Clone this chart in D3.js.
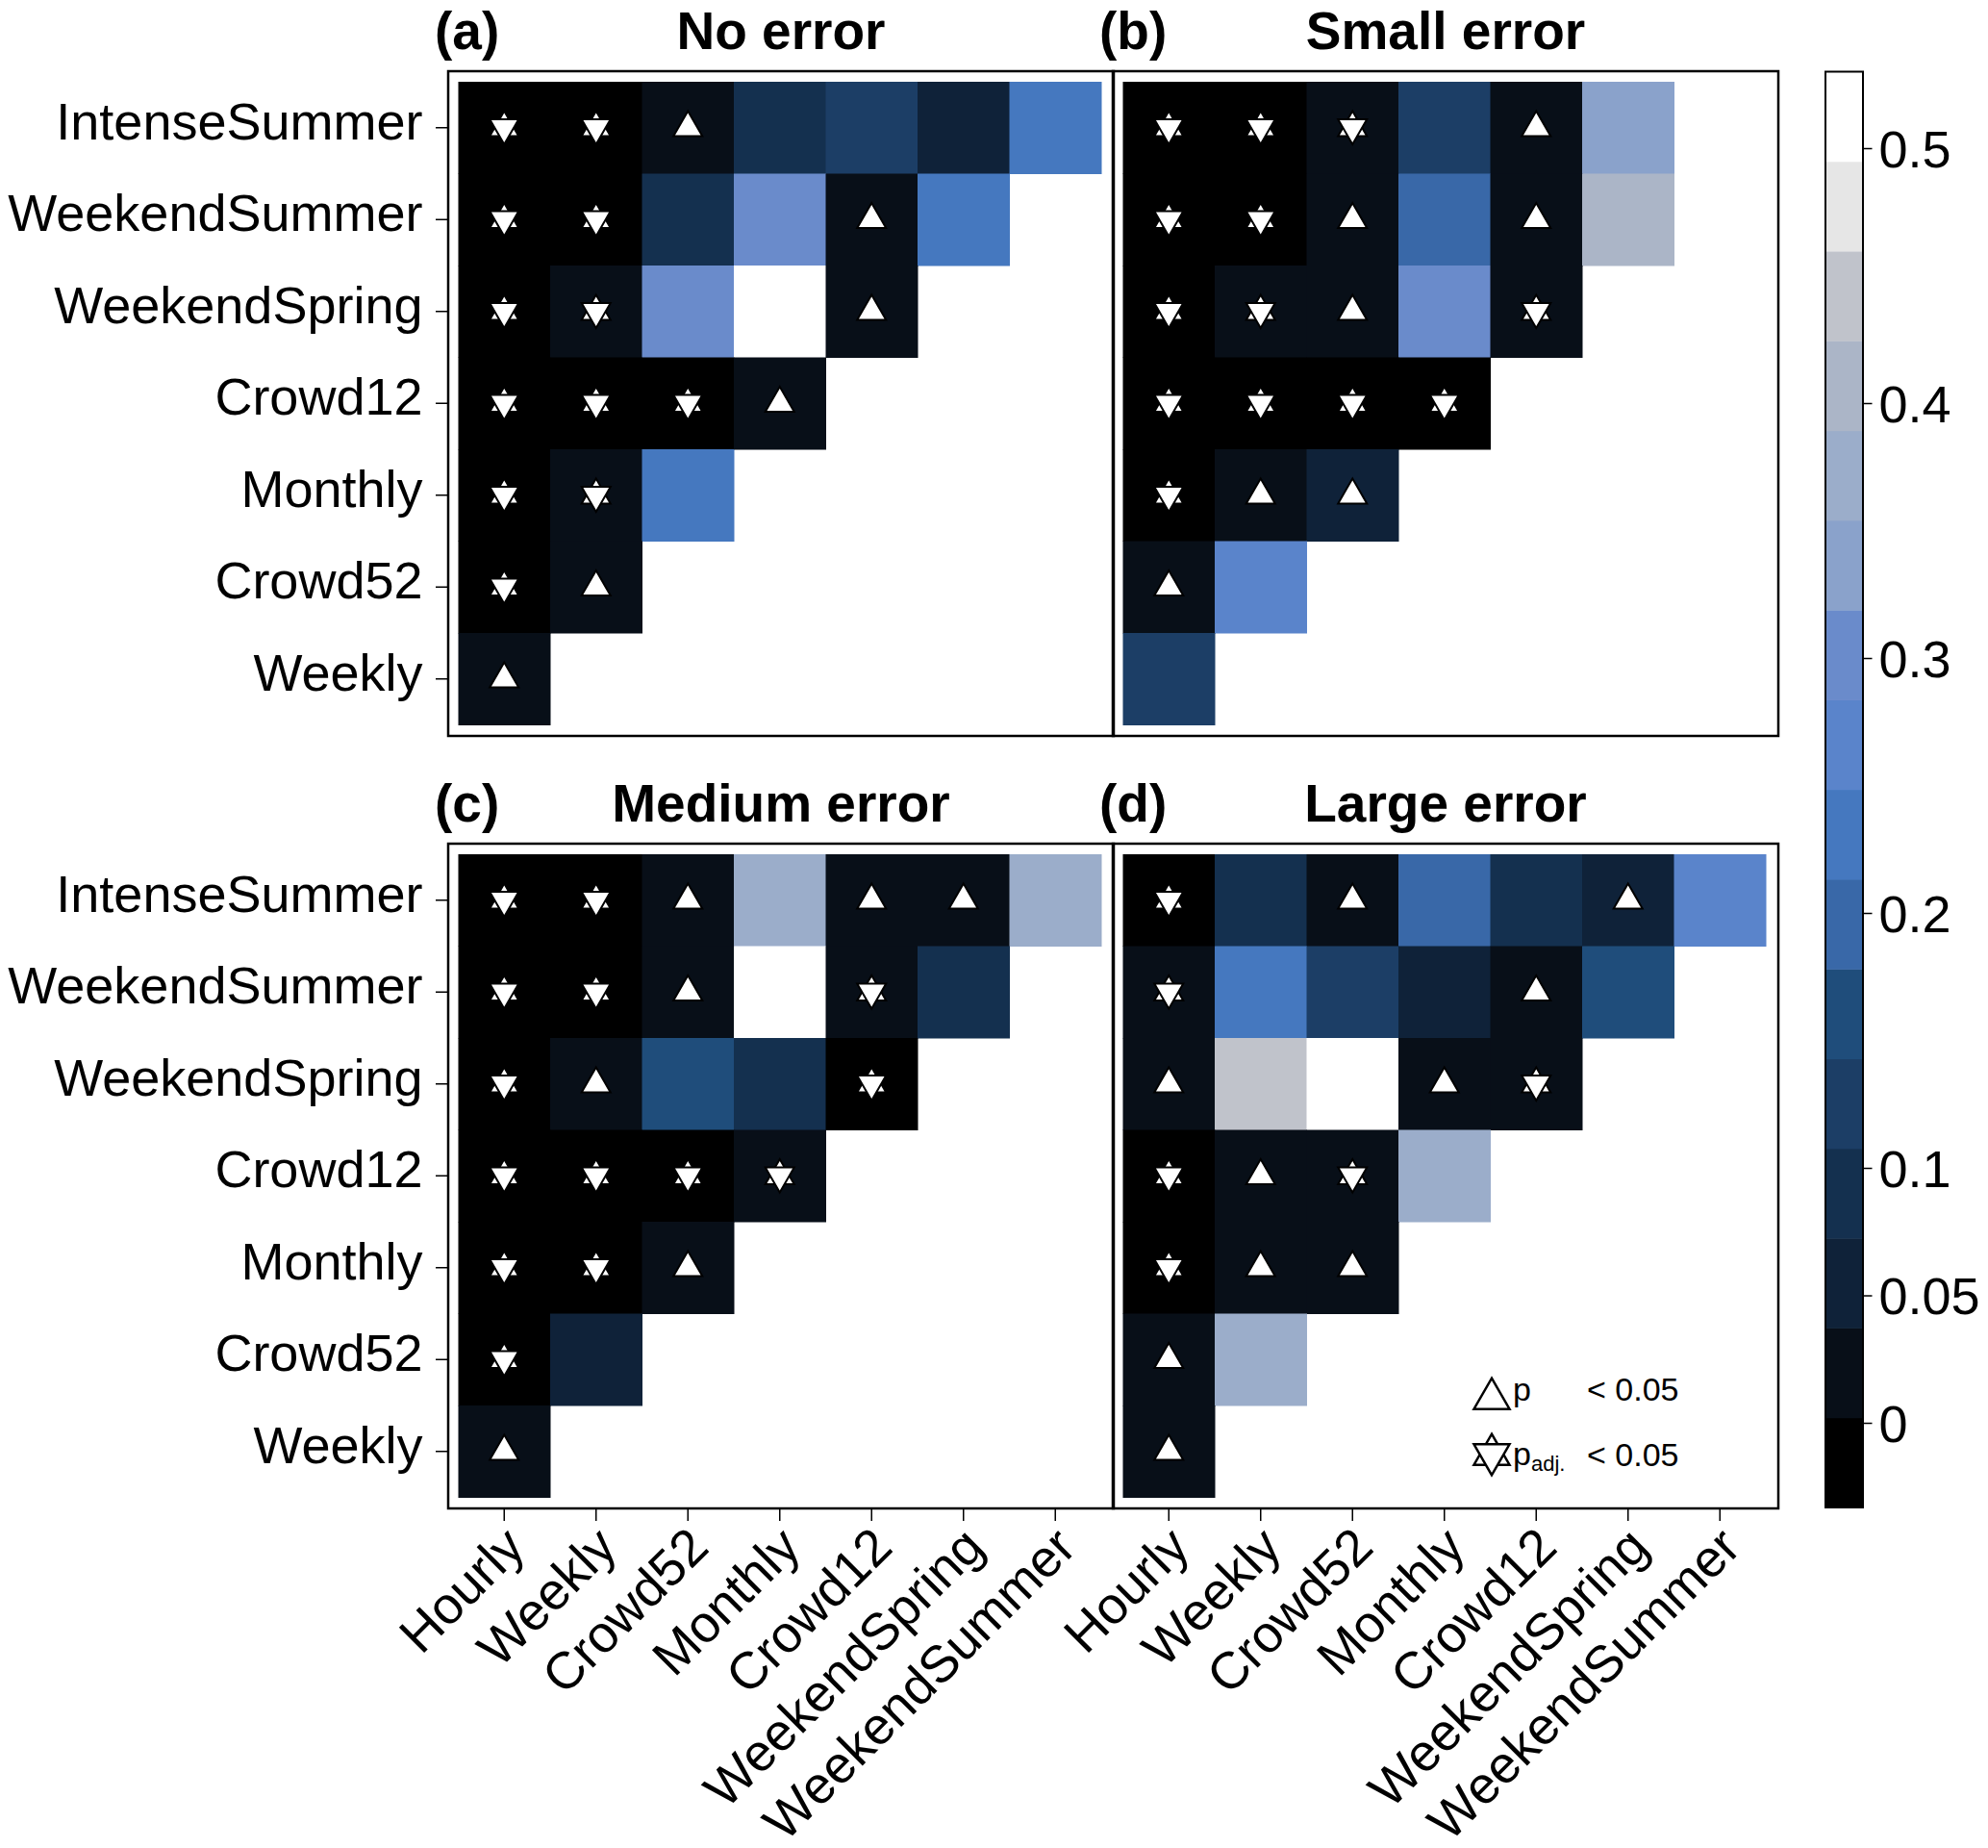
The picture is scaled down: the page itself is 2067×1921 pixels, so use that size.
<!DOCTYPE html>
<html lang="en">
<head>
<meta charset="utf-8">
<title>Pairwise comparison heatmaps</title>
<script src="https://cdn.jsdelivr.net/npm/d3@7"></script>
<style>
  body { margin: 0; background: #fff; }
  svg text { font-family: "Liberation Sans", Arial, Helvetica, sans-serif; }
</style>
</head>
<body>
<script>
// row / column categories (rows listed top to bottom)
var rowNames = ["IntenseSummer", "WeekendSummer", "WeekendSpring", "Crowd12", "Monthly", "Crowd52", "Weekly"];
var colNames = ["Hourly", "Weekly", "Crowd52", "Monthly", "Crowd12", "WeekendSpring", "WeekendSummer"];

var panelTags = ["(a)", "(b)", "(c)", "(d)"];
var panelTitles = ["No error", "Small error", "Medium error", "Large error"];

// cell values per panel, row by row (missing cells are left out)
var valuesNoError = [
  [0, 0, 0.02, 0.09, 0.125, 0.05, 0.23],
  [0, 0, 0.09, 0.30, 0.02, 0.23],
  [0, 0.02, 0.30, 0.51, 0.02],
  [0, 0, 0, 0.02],
  [0, 0.02, 0.23],
  [0, 0.02],
  [0.02]
];
var valuesSmallError = [
  [0, 0, 0.02, 0.125, 0.02, 0.335],
  [0, 0, 0.02, 0.195, 0.02, 0.405],
  [0, 0.02, 0.02, 0.30, 0.02],
  [0, 0, 0, 0],
  [0, 0.02, 0.05],
  [0.02, 0.265],
  [0.125]
];
var valuesMediumError = [
  [0, 0, 0.02, 0.37, 0.02, 0.02, 0.37],
  [0, 0, 0.02, 0.51, 0.02, 0.09],
  [0, 0.02, 0.16, 0.09, 0],
  [0, 0, 0, 0.02],
  [0, 0, 0.02],
  [0, 0.05],
  [0.02]
];
var valuesLargeError = [
  [0, 0.09, 0.02, 0.195, 0.09, 0.05, 0.265],
  [0.02, 0.23, 0.125, 0.05, 0.02, 0.16],
  [0.02, 0.44, 0.51, 0.02, 0.02],
  [0, 0.02, 0.02, 0.37],
  [0, 0.02, 0.02],
  [0.02, 0.37],
  [0.02]
];

// significance: 0 none, 1 p < 0.05, 2 p adj. < 0.05
var sigNoError = [
  [2, 2, 1, 0, 0, 0, 0],
  [2, 2, 0, 0, 1, 0],
  [2, 2, 0, 0, 1],
  [2, 2, 2, 1],
  [2, 2, 0],
  [2, 1],
  [1]
];
var sigSmallError = [
  [2, 2, 2, 0, 1, 0],
  [2, 2, 1, 0, 1, 0],
  [2, 2, 1, 0, 2],
  [2, 2, 2, 2],
  [2, 1, 1],
  [1, 0],
  [0]
];
var sigMediumError = [
  [2, 2, 1, 0, 1, 1, 0],
  [2, 2, 1, 0, 2, 0],
  [2, 1, 0, 0, 2],
  [2, 2, 2, 2],
  [2, 2, 1],
  [2, 0],
  [1]
];
var sigLargeError = [
  [2, 0, 1, 0, 0, 1, 0],
  [2, 0, 0, 0, 1, 0],
  [1, 0, 0, 1, 2],
  [2, 1, 2, 0],
  [2, 1, 1],
  [1, 0],
  [1]
];

var colorTicks = [0, 0.05, 0.1, 0.2, 0.3, 0.4, 0.5];
var colorDomain = [-0.0332, 0.53];
var colorBands = ["#000000", "#080f18", "#0f2239", "#14304f", "#1c3e66", "#1f4d7b",
                  "#3968a8", "#4578bf", "#5a84cb", "#6a8bcb", "#8aa2cb", "#9badca",
                  "#abb5c7", "#c0c3cb", "#e6e6e6", "#ffffff"];

var allValues = [valuesNoError, valuesSmallError, valuesMediumError, valuesLargeError];
var allSig = [sigNoError, sigSmallError, sigMediumError, sigLargeError];

var W = 2067, H = 1921;
var svg = d3.select("body").append("svg")
            .attr("width", W)
            .attr("height", H);

var color = d3.scaleQuantize().domain(colorDomain).range(colorBands);

// panel boxes
var boxW = 692, boxH = 691;
var boxX = [466, 1157, 466, 1157];
var boxY = [74, 74, 877, 877];
var insetX = 10.5, insetY = 11, cellsSpan = 668.5;

var triSize = 390;      // d3 symbol area for cell markers
var triLegend = 593;

panelTags.forEach(function(tag, p) {
    var g = svg.append("g").attr("transform", "translate(" + boxX[p] + "," + boxY[p] + ")");

    var x = d3.scaleBand().domain(colNames).range([insetX, insetX + cellsSpan]);
    var y = d3.scaleBand().domain(rowNames).range([insetY, insetY + cellsSpan]);

    var cells = [];
    allValues[p].forEach(function(row, i) {
        row.forEach(function(v, j) {
            cells.push({ r: rowNames[i], c: colNames[j], v: v, s: allSig[p][i][j] });
        });
    });

    g.selectAll("rect.cell")
     .data(cells)
     .enter()
     .append("rect")
     .attr("class", "cell")
     .attr("x", function(d) { return x(d.c); })
     .attr("y", function(d) { return y(d.r); })
     .attr("width", x.bandwidth() + 0.5)
     .attr("height", y.bandwidth() + 0.5)
     .attr("fill", function(d) { return color(d.v); });

    var marked = cells.filter(function(d) { return d.s > 0; });
    var mk = g.selectAll("g.mark")
              .data(marked)
              .enter()
              .append("g")
              .attr("class", "mark")
              .attr("transform", function(d) {
                  return "translate(" + (x(d.c) + x.bandwidth() / 2) + "," + (y(d.r) + y.bandwidth() / 2) + ")";
              });
    mk.append("path")
      .attr("d", d3.symbol(d3.symbolTriangle, triSize))
      .attr("fill", "#fff").attr("stroke", "#000").attr("stroke-width", 2);
    mk.filter(function(d) { return d.s === 2; })
      .append("path")
      .attr("d", d3.symbol(d3.symbolTriangle, triSize))
      .attr("transform", "rotate(180)")
      .attr("fill", "#fff").attr("stroke", "#000").attr("stroke-width", 2);

    g.append("rect")
     .attr("width", boxW).attr("height", boxH)
     .attr("fill", "none").attr("stroke", "#000").attr("stroke-width", 2.5);

    // titles
    svg.append("text")
       .attr("x", boxX[p] - 14).attr("y", boxY[p] - 23.5)
       .attr("font-size", 55).attr("font-weight", "bold")
       .text(tag);
    svg.append("text")
       .attr("x", boxX[p] + boxW / 2).attr("y", boxY[p] - 23.5)
       .attr("text-anchor", "middle")
       .attr("font-size", 55).attr("font-weight", "bold")
       .text(panelTitles[p]);

    // left axis on left column
    if (p % 2 === 0) {
        var ya = g.append("g").call(d3.axisLeft(y).tickSize(13).tickPadding(13.5));
        ya.select(".domain").remove();
        ya.selectAll("line").attr("stroke-width", 1.5);
        ya.selectAll("text").attr("font-size", 54).attr("dy", "0.22em")
          .attr("fill", "#000").style("font-family", '"Liberation Sans", Arial, sans-serif');
    }
    // bottom axis on bottom row
    if (p >= 2) {
        var xa = g.append("g").attr("transform", "translate(0," + boxH + ")")
                  .call(d3.axisBottom(x).tickSize(13));
        xa.select(".domain").remove();
        xa.selectAll("line").attr("stroke-width", 1.5);
        xa.selectAll("text")
          .attr("x", 0).attr("y", 0).attr("dy", 0)
          .attr("text-anchor", "end")
          .attr("transform", "translate(24,43) rotate(-45)")
          .attr("font-size", 54).attr("fill", "#000")
          .style("font-family", '"Liberation Sans", Arial, sans-serif');
    }

    // legend in panel d
    if (p === 3) {
        var lg = svg.append("g");
        lg.append("path")
          .attr("d", d3.symbol(d3.symbolTriangle, triLegend))
          .attr("transform", "translate(1551,1454)")
          .attr("fill", "#fff").attr("stroke", "#000").attr("stroke-width", 2.5);
        lg.append("path")
          .attr("d", d3.symbol(d3.symbolTriangle, triLegend))
          .attr("transform", "translate(1551,1512)")
          .attr("fill", "#fff").attr("stroke", "#000").attr("stroke-width", 2.5);
        lg.append("path")
          .attr("d", d3.symbol(d3.symbolTriangle, triLegend))
          .attr("transform", "translate(1551,1512) rotate(180)")
          .attr("fill", "#fff").attr("stroke", "#000").attr("stroke-width", 2.5);
        lg.append("text").attr("x", 1573).attr("y", 1456).attr("font-size", 34).text("p");
        lg.append("text").attr("x", 1650).attr("y", 1456).attr("font-size", 34).text("< 0.05");
        var t2 = lg.append("text").attr("x", 1573).attr("y", 1523).attr("font-size", 34);
        t2.append("tspan").text("p");
        t2.append("tspan").attr("font-size", 22).attr("dy", 6).text("adj.");
        lg.append("text").attr("x", 1650).attr("y", 1524).attr("font-size", 34).text("< 0.05");
    }
});

// colour bar
var cbX = 1898, cbW = 39, cbTop = 74.5, cbBottom = 1567;
var cy = d3.scaleLinear().domain(colorDomain).range([cbBottom, cbTop]);
var cb = svg.append("g");
cb.selectAll("rect")
  .data(colorBands)
  .enter()
  .append("rect")
  .attr("x", cbX)
  .attr("y", function(d) { return cy(color.invertExtent(d)[1]); })
  .attr("width", cbW)
  .attr("height", function(d) {
      var e = color.invertExtent(d);
      return cy(e[0]) - cy(e[1]) + 0.5;
  })
  .attr("fill", function(d) { return d; });
cb.append("rect")
  .attr("x", cbX).attr("y", cbTop)
  .attr("width", cbW).attr("height", cbBottom - cbTop)
  .attr("fill", "none").attr("stroke", "#000").attr("stroke-width", 2);
var ca = cb.append("g").attr("transform", "translate(" + (cbX + cbW) + ",0)")
           .call(d3.axisRight(cy).tickValues(colorTicks).tickSize(9.5).tickPadding(7)
                   .tickFormat(function(d) { return String(d); }));
ca.select(".domain").remove();
ca.selectAll("line").attr("stroke-width", 1.5);
ca.selectAll("text").attr("font-size", 54).attr("dy", "0.36em").attr("fill", "#000")
  .style("font-family", '"Liberation Sans", Arial, sans-serif');
</script>
</body>
</html>
